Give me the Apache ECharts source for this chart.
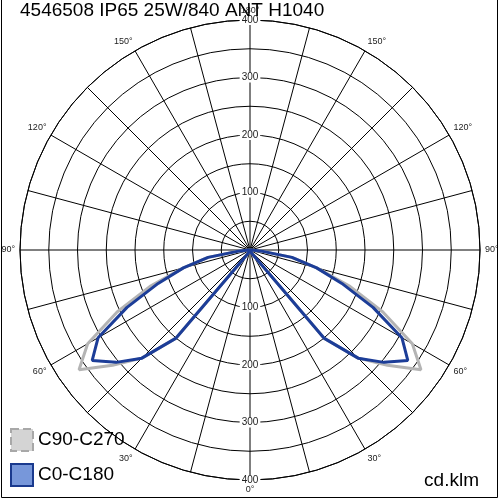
<!DOCTYPE html>
<html>
<head>
<meta charset="utf-8">
<script src="https://cdn.jsdelivr.net/npm/echarts@6/dist/echarts.min.js"></script>
<style>
  html, body { margin: 0; padding: 0; background: #fff; }
  #main { width: 500px; height: 500px; }
</style>
</head>
<body>
<div id="main"></div>
<script>
// titles / labels
const titleText = "4546508 IP65 25W/840 ANT H1040";
const unitText = "cd.klm";
const seriesNames = ["C90-C270", "C0-C180"];

// gamma angles (deg) and intensities (cd/klm), right half; left half is mirrored
const gammaAngles = [0, 5, 10, 15, 20, 25, 30, 35, 40, 45, 50, 55, 60, 65, 70, 75, 80, 85, 90,
  95, 100, 105, 110, 115, 120, 125, 130, 135, 140, 145, 150, 155, 160, 165, 170, 175, 180];
const c0c180 = [0, 1, 2, 3, 4, 5, 7, 15, 200, 266, 304, 335, 305, 236, 170, 120, 74, 18, 2,
  0, 0, 0, 0, 0, 0, 0, 0, 0, 0, 0, 0, 0, 0, 0, 0, 0, 0];
const c90c270 = [0, 1, 2, 3, 4, 5, 7, 15, 200, 266, 312, 363, 326, 255, 185, 120, 74, 18, 2,
  0, 0, 0, 0, 0, 0, 0, 0, 0, 0, 0, 0, 0, 0, 0, 0, 0, 0];

const radiusMax = 400;
const font = "Liberation Sans, Arial, sans-serif";

// right side 0..180 then left side back down (angle = 360 - gamma)
function mirrored(values) {
  let pts = [];
  for (let i = 0; i < gammaAngles.length; i++) {
    pts.push([values[i], gammaAngles[i]]);
  }
  for (let i = gammaAngles.length - 1; i >= 0; i--) {
    pts.push([values[i], 360 - gammaAngles[i]]);
  }
  return pts;
}

function radiusLabelAxis(idx) {
  return {
    polarIndex: idx,
    type: "value",
    min: 0,
    max: radiusMax,
    interval: 100,
    z: 5,
    axisLine: { show: false },
    axisTick: { show: false },
    splitLine: { show: false },
    axisLabel: {
      showMaxLabel: true,
      margin: 0,
      align: "center",
      verticalAlign: "middle",
      formatter: v => (v > 0 ? "{b|" + v + "}" : ""),
      rich: {
        b: { backgroundColor: "#fff", padding: [0, 2], fontSize: 10, color: "#222", fontFamily: font }
      }
    }
  };
}

let chart = echarts.init(document.getElementById("main"));
chart.setOption({
  animation: false,
  polar: [
    { center: [250, 250], radius: 230 },
    { center: [250, 250], radius: 230 },
    { center: [250, 250], radius: 230 }
  ],
  angleAxis: [
    {
      polarIndex: 0,
      type: "value",
      min: 0,
      max: 360,
      interval: 15,
      startAngle: 270,
      clockwise: false,
      axisLine: { lineStyle: { color: "#000", width: 1 } },
      axisTick: { show: false },
      splitLine: { lineStyle: { color: "#000", width: 1 } },
      axisLabel: {
        margin: 5,
        fontSize: 9,
        color: "#222",
        fontFamily: font,
        formatter: v => (v % 30 === 0 ? (v > 180 ? 360 - v : v) + "°" : "")
      }
    },
    { polarIndex: 1, type: "value", min: 0, max: 360, startAngle: 90, show: false },
    { polarIndex: 2, type: "value", min: 0, max: 360, startAngle: 270, show: false }
  ],
  radiusAxis: [
    {
      polarIndex: 0,
      type: "value",
      min: 0,
      max: radiusMax,
      interval: 50,
      axisLine: { show: false },
      axisTick: { show: false },
      axisLabel: { show: false },
      splitLine: { lineStyle: { color: "#000", width: 1 } }
    },
    radiusLabelAxis(1),
    radiusLabelAxis(2)
  ],
  legend: {
    orient: "vertical",
    left: 5,
    top: 423,
    itemWidth: 22,
    itemHeight: 22,
    itemGap: 11,
    icon: "rect",
    textStyle: { fontSize: 19, color: "#000", fontFamily: font },
    data: [
      { name: seriesNames[0], itemStyle: { color: "#d4d4d4", borderColor: "#a8a8a8", borderWidth: 2, borderType: "dashed" } },
      { name: seriesNames[1], itemStyle: { color: "#7797da", borderColor: "#1a3a8e", borderWidth: 2 } }
    ]
  },
  series: [
    {
      name: seriesNames[0],
      type: "line",
      coordinateSystem: "polar",
      polarIndex: 0,
      symbol: "none",
      z: 3,
      data: mirrored(c90c270),
      lineStyle: { color: "#b4b4b4", width: 3 },
      itemStyle: { color: "#b4b4b4" }
    },
    {
      name: seriesNames[1],
      type: "line",
      coordinateSystem: "polar",
      polarIndex: 0,
      symbol: "none",
      z: 4,
      data: mirrored(c0c180),
      lineStyle: { color: "#1c3d98", width: 3 },
      itemStyle: { color: "#1c3d98" }
    }
  ],
  graphic: [
    {
      type: "rect",
      z: 10,
      shape: { x: 1.5, y: -5, width: 496, height: 502.5 },
      style: { fill: null, stroke: "#000", lineWidth: 1 }
    },
    {
      type: "text",
      z: 10,
      left: 20,
      top: 1,
      style: { text: titleText, fontSize: 19, fontFamily: font, fill: "#000" }
    },
    {
      type: "text",
      z: 10,
      right: 21,
      top: 471,
      style: { text: unitText, fontSize: 19, fontFamily: font, fill: "#000" }
    }
  ]
});
</script>
</body>
</html>
